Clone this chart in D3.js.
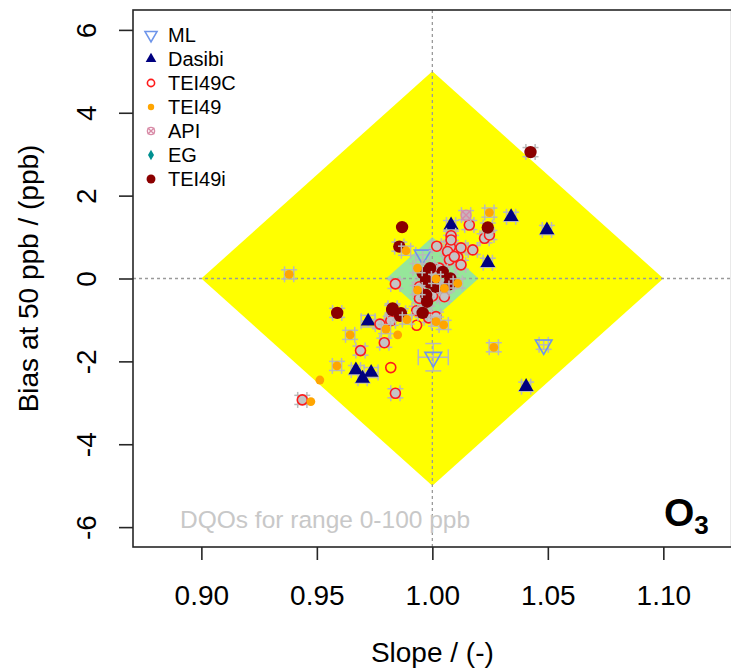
<!DOCTYPE html>
<html>
<head>
<meta charset="utf-8">
<script src="https://cdn.jsdelivr.net/npm/d3@7"></script>
<style>
  html, body { margin: 0; padding: 0; background: #fff; }
  svg { display: block; }
  text { font-family: "Liberation Sans", Arial, sans-serif; }
</style>
</head>
<body>
<svg id="chart" width="731" height="670"></svg>
<script>
// ---- Data: slope and bias at 50 ppb per analyser type, with uncertainties ----
const mlSlope      = [0.9958, 1.0004, 1.0482];
const mlBias       = [0.57, -1.90, -1.60];
const mlErrSlope   = [0.003, 0.0065, 0.002];
const mlErrBias    = [0.12, 0.33, 0.11];

const dasibiSlope    = [1.0081, 1.0341, 1.0496, 1.0240, 0.9722, 0.9669, 0.9735, 0.9698, 1.0406];
const dasibiBias     = [1.29, 1.49, 1.17, 0.38, -1.03, -2.21, -2.27, -2.41, -2.61];
const dasibiErrSlope = [0.002, 0.002, 0.002, 0.002, 0.003, 0.002, 0.003, 0.002, 0.002];
const dasibiErrBias  = [0.11, 0.11, 0.11, 0.11, 0.14, 0.11, 0.12, 0.11, 0.11];

const tei49cSlope = [0.9840, 0.9944, 1.0052, 0.9944, 0.9773, 0.9820, 0.9932, 0.9984, 0.9932, 0.9792,
                     0.9689, 0.9820, 0.9437, 0.9840, 1.0160, 1.0226, 1.0247, 1.0081, 1.0019, 1.0124,
                     1.0078, 1.0066, 1.0110, 1.0175, 1.0124, 1.0074, 0.9987, 1.0030, 1.0081, 1.0095,
                     1.0023, 1.0001, 1.0016];
const tei49cBias  = [-0.13, -0.20, -0.44, -0.48, -1.10, -1.02, -0.78, -0.95, -1.13, -1.55,
                     -1.74, -2.15, -2.93, -2.77, 1.29, 0.97, 1.05, 1.03, 0.78, 0.74,
                     0.76, 0.65, 0.51, 0.69, 0.33, 0.45, 0.08, 0.25, 0.93, 0.53,
                     -0.24, -0.42, -0.92];
const tei49cErrSlope = [0.002, 0.002, 0.002, 0.002, 0.002, 0.002, 0.002, 0.002, 0, 0.002,
                        0.002, 0, 0.002, 0.002, 0.002, 0.002, 0.002, 0.002, 0.002, 0.002,
                        0.002, 0.002, 0.002, 0.002, 0.002, 0.002, 0.002, 0.002, 0.002, 0.002,
                        0.002, 0.002, 0.002];
const tei49cErrBias  = [0.11, 0.11, 0.11, 0.11, 0.11, 0.11, 0.11, 0.11, 0, 0.11,
                        0.11, 0, 0.11, 0.11, 0.11, 0.11, 0.11, 0.11, 0.11, 0.11,
                        0.11, 0.11, 0.11, 0.11, 0.11, 0.11, 0.11, 0.11, 0.11, 0.11,
                        0.11, 0.11, 0.11];

const tei49Slope = [0.9380, 0.9799, 0.9644, 0.9850, 0.9587, 0.9513, 0.9474, 0.9890, 1.0016, 1.0049,
                    1.0266, 0.9886, 1.0247, 0.9936, 1.0110, 1.0052, 1.0016, 0.9936];
const tei49Bias  = [0.10, -1.22, -1.36, -1.36, -2.11, -2.45, -2.97, -0.99, -1.04, -1.12,
                    -1.66, 0.67, 1.59, 0.25, -0.12, -0.24, -0.01, -0.28];
const tei49ErrSlope = [0.002, 0.002, 0.002, 0, 0.002, 0, 0, 0.002, 0.002, 0.002,
                       0.002, 0.002, 0.002, 0.002, 0.002, 0.002, 0.002, 0.002];
const tei49ErrBias  = [0.11, 0.11, 0.11, 0, 0.11, 0, 0, 0.11, 0.11, 0.11,
                       0.11, 0.11, 0.11, 0.11, 0.11, 0.11, 0.11, 0.11];

const apiSlope    = [1.0146];
const apiBias     = [1.53];
const apiErrSlope = [0.002];
const apiErrBias  = [0.11];

const egSlope    = [];
const egBias     = [];
const egErrSlope = [];
const egErrBias  = [];

const tei49iSlope = [1.0425, 0.9588, 0.9826, 0.9860, 0.9958, 0.9869, 0.9857, 1.0240, 0.9828, 0.9864,
                     0.9958, 0.9990, 1.0045, 1.0078, 0.9973, 0.9987, 1.0016, 0.9973, 0.9977, 1.0074];
const tei49iBias  = [3.05, -0.83, -0.76, -0.90, -0.83, 1.24, 0.77, 1.23, -0.72, -0.84,
                     0.13, 0.25, 0.16, 0.00, -0.04, -0.10, -0.20, -0.40, -0.56, -0.14];
const tei49iErrSlope = [0.002, 0.002, 0.002, 0.002, 0.002, 0, 0.002, 0.002, 0.002, 0.002,
                        0.002, 0.002, 0.002, 0.002, 0.002, 0.002, 0.002, 0.002, 0.002, 0.002];
const tei49iErrBias  = [0.11, 0.11, 0.11, 0.11, 0.11, 0, 0.11, 0.11, 0.11, 0.11,
                        0.11, 0.11, 0.11, 0.11, 0.11, 0.11, 0.11, 0.11, 0.11, 0.11];

// Acceptance regions (slope, bias) for the 0-100 ppb range
const dqoOuter = [[0.90, 0], [1.00, 5], [1.10, 0], [1.00, -5]];
const dqoInner = [[0.98, 0], [1.00, 1], [1.02, 0], [1.00, -1]];

const xTicks = [0.90, 0.95, 1.00, 1.05, 1.10];
const yTicks = [-6, -4, -2, 0, 2, 4, 6];

// ---- Series styling (legend order) ----
const series = [
  { name: "ML",     slope: mlSlope,     bias: mlBias,     es: mlErrSlope,     eb: mlErrBias,     shape: "tridown" },
  { name: "Dasibi", slope: dasibiSlope, bias: dasibiBias, es: dasibiErrSlope, eb: dasibiErrBias, shape: "triup" },
  { name: "TEI49C", slope: tei49cSlope, bias: tei49cBias, es: tei49cErrSlope, eb: tei49cErrBias, shape: "ring" },
  { name: "TEI49",  slope: tei49Slope,  bias: tei49Bias,  es: tei49ErrSlope,  eb: tei49ErrBias,  shape: "dot" },
  { name: "API",    slope: apiSlope,    bias: apiBias,    es: apiErrSlope,    eb: apiErrBias,    shape: "crossring" },
  { name: "EG",     slope: egSlope,     bias: egBias,     es: egErrSlope,     eb: egErrBias,     shape: "diamond" },
  { name: "TEI49i", slope: tei49iSlope, bias: tei49iBias, es: tei49iErrSlope, eb: tei49iErrBias, shape: "bigdot" }
];
// Plotting order: TEI49i above the TEI49C rings, TEI49 dots on top
const drawOrder = [0, 1, 2, 6, 3, 4, 5];

const svg = d3.select("#chart");
const plot = { left: 133, right: 731.7, top: 10, bottom: 547 };

const x = d3.scaleLinear().domain([0.8704, 1.1296]).range([plot.left, plot.right]);
const y = d3.scaleLinear().domain([-6.48, 6.48]).range([plot.bottom, plot.top]);

// DQO regions
const poly = d3.line().x(d => x(d[0])).y(d => y(d[1])).curve(d3.curveLinearClosed);
svg.append("path").attr("d", poly(dqoOuter)).attr("fill", "#ffff00");
svg.append("path").attr("d", poly(dqoInner)).attr("fill", "#96e69a");

// Reference lines at slope 1 and zero bias
svg.append("line")
  .attr("x1", x(1)).attr("x2", x(1)).attr("y1", plot.top).attr("y2", plot.bottom)
  .attr("stroke", "#9a9a9a").attr("stroke-width", 1.3).attr("stroke-dasharray", "3,3");
svg.append("line")
  .attr("x1", plot.left).attr("x2", plot.right).attr("y1", y(0)).attr("y2", y(0))
  .attr("stroke", "#9a9a9a").attr("stroke-width", 1.3).attr("stroke-dasharray", "3,3");

// Marker drawing; hollow rings are shaded where an uncertainty cross sits behind them
function drawMarker(g, shape, scale, shaded) {
  const k = scale || 1;
  switch (shape) {
    case "tridown":
      g.append("path").attr("d", d3.symbol(d3.symbolTriangle, 120 * k * k)())
        .attr("transform", "rotate(180)")
        .attr("fill", "none").attr("stroke", "#6e95ea").attr("stroke-width", 1.6);
      break;
    case "triup":
      g.append("path").attr("d", d3.symbol(d3.symbolTriangle, 95 * k * k)())
        .attr("fill", "#00007f");
      break;
    case "ring":
      g.append("circle").attr("r", 5 * k)
        .attr("fill", shaded ? "#c4c4c4" : "none").attr("stroke", "#ff1a1a").attr("stroke-width", 1.6);
      break;
    case "dot":
      g.append("circle").attr("r", 4.4 * k).attr("fill", "#ffa500");
      break;
    case "crossring":
      g.append("circle").attr("r", 5 * k)
        .attr("fill", shaded ? "#c8b4bc" : "none").attr("stroke", "#d88aa6").attr("stroke-width", 1.4);
      g.append("path").attr("d", d3.symbol(d3.symbolTimes, 60 * k * k)())
        .attr("fill", "none").attr("stroke", "#d88aa6").attr("stroke-width", 1.4);
      break;
    case "diamond":
      g.append("path").attr("d", d3.symbol(d3.symbolDiamond, 60 * k * k)())
        .attr("fill", "#009090");
      break;
    case "bigdot":
      g.append("circle").attr("r", 6.2 * k).attr("fill", "#8b0000");
      break;
  }
}

// Error bars with fixed-length caps, then markers
const cap = 8;
const barColor = "#b9b9b9";
drawOrder.forEach(si => {
  const s = series[si];
  const layer = svg.append("g").attr("class", "series-" + s.name);
  s.slope.forEach((sl, i) => {
    const cx = x(sl), cy = y(s.bias[i]);
    const es = s.es[i], eb = s.eb[i];
    if (es > 0 || eb > 0) {
      const x0 = x(sl - es), x1 = x(sl + es);
      const y0 = y(s.bias[i] - eb), y1 = y(s.bias[i] + eb);
      const eg = layer.append("g").attr("stroke", barColor).attr("stroke-width", 1.5).attr("fill", "none");
      eg.append("line").attr("x1", x0).attr("x2", x1).attr("y1", cy).attr("y2", cy);
      eg.append("line").attr("x1", x0).attr("x2", x0).attr("y1", cy - cap).attr("y2", cy + cap);
      eg.append("line").attr("x1", x1).attr("x2", x1).attr("y1", cy - cap).attr("y2", cy + cap);
      eg.append("line").attr("x1", cx).attr("x2", cx).attr("y1", y0).attr("y2", y1);
      eg.append("line").attr("x1", cx - cap).attr("x2", cx + cap).attr("y1", y0).attr("y2", y0);
      eg.append("line").attr("x1", cx - cap).attr("x2", cx + cap).attr("y1", y1).attr("y2", y1);
    }
  });
  s.slope.forEach((sl, i) => {
    const g = layer.append("g").attr("transform", `translate(${x(sl)},${y(s.bias[i])})`);
    drawMarker(g, s.shape, 1, s.es[i] > 0 || s.eb[i] > 0);
  });
});

// Plot frame
svg.append("rect")
  .attr("x", plot.left).attr("y", plot.top)
  .attr("width", plot.right - plot.left).attr("height", plot.bottom - plot.top)
  .attr("fill", "none").attr("stroke", "#262626").attr("stroke-width", 1.6);

// Axes (plain hyphen for negative numbers)
const plain = d => String(d);
const xAxis = d3.axisBottom(x).tickValues(xTicks).tickFormat(d3.format(".2f")).tickSize(13).tickPadding(25);
const gx = svg.append("g").attr("transform", `translate(0,${plot.bottom})`).call(xAxis);
gx.select(".domain").remove();
gx.selectAll(".tick line").attr("stroke", "#262626").attr("stroke-width", 1.6);
gx.selectAll(".tick text").attr("font-size", 28).attr("fill", "#000")
  .attr("font-family", "'Liberation Sans', Arial, sans-serif");

const yAxis = d3.axisLeft(y).tickValues(yTicks).tickFormat(plain).tickSize(14);
const gy = svg.append("g").attr("transform", `translate(${plot.left},0)`).call(yAxis);
gy.select(".domain").remove();
gy.selectAll(".tick line").attr("stroke", "#262626").attr("stroke-width", 1.6);
gy.selectAll(".tick text")
  .attr("font-size", 28).attr("fill", "#000")
  .attr("font-family", "'Liberation Sans', Arial, sans-serif")
  .attr("x", null).attr("dy", null)
  .attr("text-anchor", "middle")
  .attr("transform", "translate(-37,0) rotate(-90)");

// Axis titles
svg.append("text")
  .attr("x", x(1)).attr("y", 662)
  .attr("text-anchor", "middle").attr("font-size", 28).attr("fill", "#000")
  .text("Slope / (-)");
svg.append("text")
  .attr("transform", `translate(38,${y(0)}) rotate(-90)`)
  .attr("text-anchor", "middle").attr("font-size", 28).attr("fill", "#000")
  .text("Bias at 50 ppb / (ppb)");

// Range note
svg.append("text")
  .attr("x", 180).attr("y", 528)
  .attr("font-size", 24.5).attr("fill", "#c8c8c8")
  .text("DQOs for range 0-100 ppb");

// Pollutant label
const o3 = svg.append("text")
  .attr("x", 664).attr("y", 526)
  .attr("font-family", "'Open Sans', 'Noto Sans', sans-serif")
  .attr("font-weight", "bold").attr("fill", "#000");
o3.append("tspan").attr("font-size", 39).text("O");
o3.append("tspan").attr("font-size", 26).attr("dy", 8).text("3");

// Legend
const legend = svg.append("g");
series.forEach((s, i) => {
  const ly = 35 + i * 24;
  const g = legend.append("g").attr("transform", `translate(151,${ly})`);
  drawMarker(g, s.shape, 0.72, false);
  legend.append("text")
    .attr("x", 168).attr("y", ly + 7)
    .attr("font-size", 20).attr("fill", "#000")
    .text(s.name);
});
</script>
</body>
</html>
